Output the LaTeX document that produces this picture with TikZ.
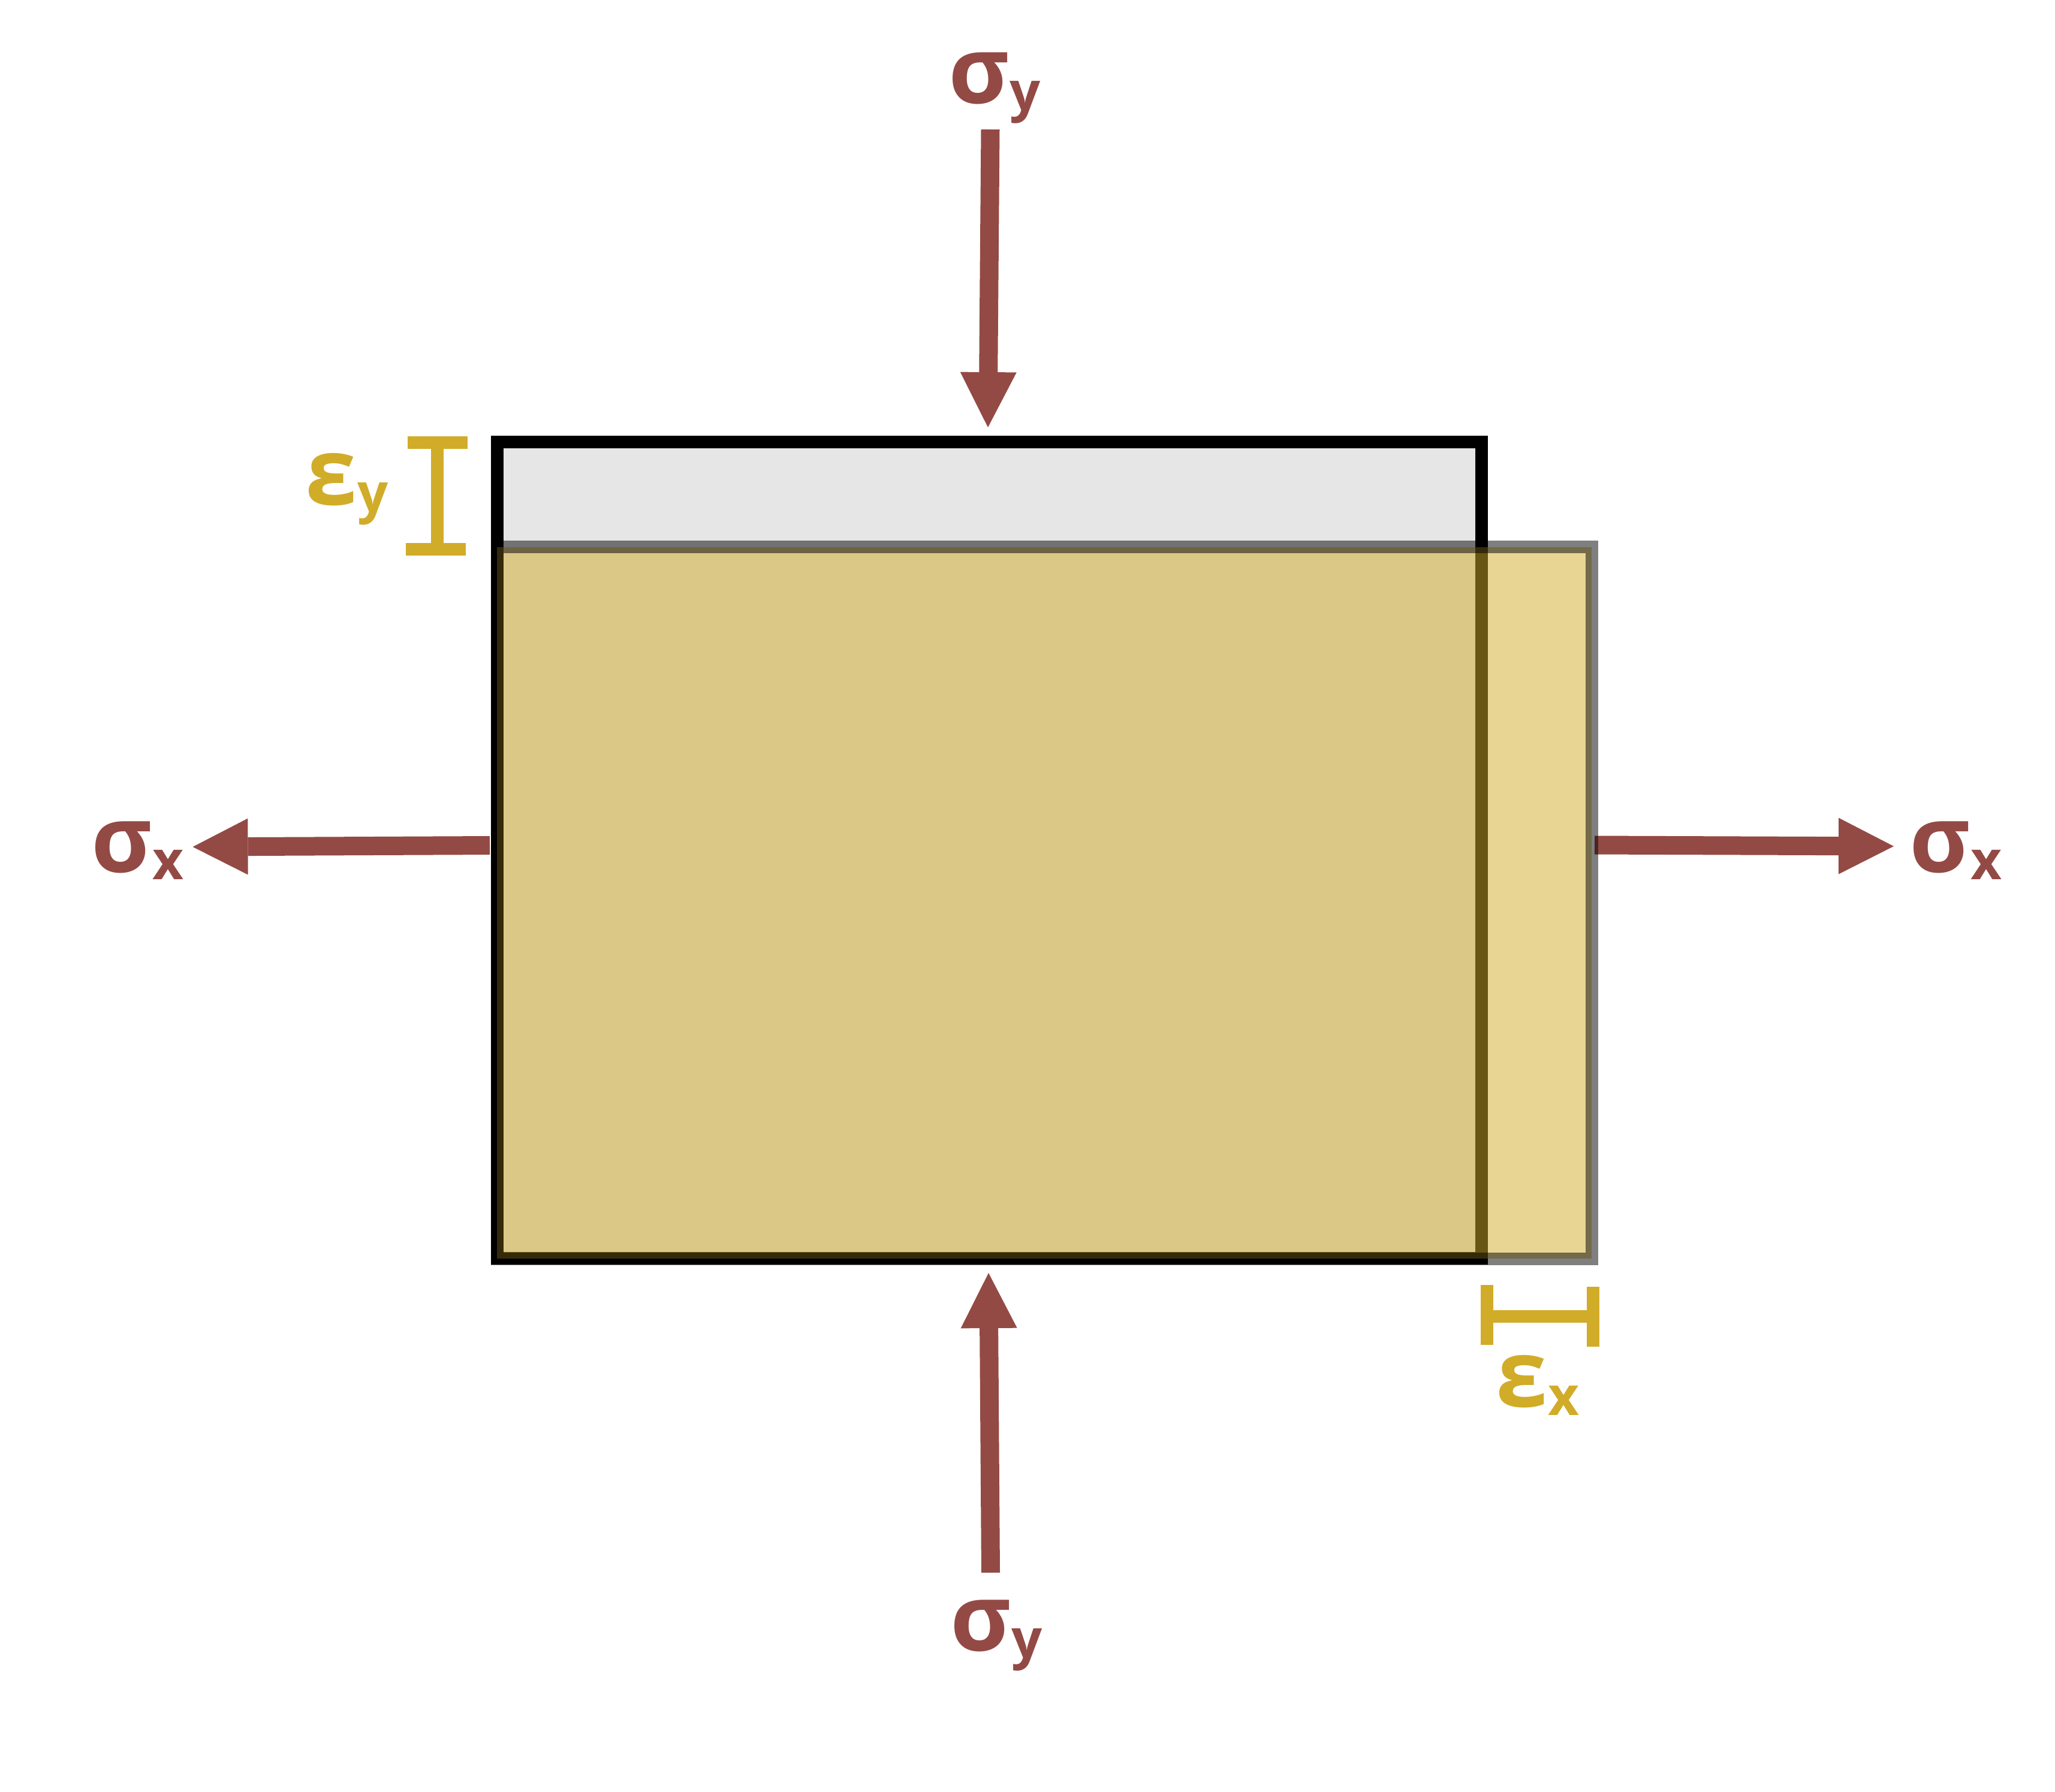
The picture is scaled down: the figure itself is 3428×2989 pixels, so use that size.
\documentclass[tikz,border=0pt]{standalone}
\usepackage{fontspec}
\setmainfont{Open Sans}
\usetikzlibrary{arrows.meta}
\definecolor{stressred}{HTML}{934A45}
\definecolor{straingold}{HTML}{D1AC29}
\definecolor{origgray}{HTML}{E6E6E6}
\newcommand{\symlab}[3]{{\bfseries\fontsize{38.75}{40}\selectfont #1}\kern0.3pt\raisebox{#3}{\bfseries\fontsize{22.5}{24}\selectfont #2}}
\tikzset{
  stressarrow/.style={draw=stressred, line width=7.75pt, line cap=butt,
    -{Triangle[width=23.5pt,length=23pt,line width=0pt]}},
  origbox/.style={draw=black, fill=origgray, line width=5.25pt},
  defbox/.style={draw=black, draw opacity=0.5, fill=straingold, fill opacity=0.5, line width=5.25pt},
  goldbar/.style={draw=straingold, line width=5.25pt, line cap=butt},
  stresslabel/.style={anchor=base west, inner sep=0pt, outer sep=0pt, text=stressred},
  strainlabel/.style={anchor=base west, inner sep=0pt, outer sep=0pt, text=straingold}
}
\begin{document}
\begin{tikzpicture}[x=0.25pt,y=-0.25pt]
\useasboundingbox (0,0) rectangle (3428,2989);
% stress arrows (drawn beneath the boxes)
\coordinate (topS) at (1652,216);
\coordinate (topT) at (1648,713);
\coordinate (botS) at (1652.5,2624);
\coordinate (botT) at (1649,2124);
\coordinate (leftS) at (817,1410.5);
\coordinate (leftT) at (321.5,1413);
\coordinate (rightS) at (2660,1410);
\coordinate (rightT) at (3159,1412);
\draw[stressarrow] (topS) -- (topT);
\draw[stressarrow] (botS) -- (botT);
\draw[stressarrow] (leftS) -- (leftT);
\draw[stressarrow] (rightS) -- (rightT);
% original and deformed element
\path[origbox] (829,737.5) rectangle (2471.5,2099);
\path[defbox] (829,912.5) rectangle (2655,2100);
% strain bars
\draw[goldbar] (680,738.5) -- (780,738.5);
\draw[goldbar] (729,738.5) -- (729,916.5);
\draw[goldbar] (677,916.5) -- (777,916.5);
\draw[goldbar] (2480,2144) -- (2480,2244);
\draw[goldbar] (2657.5,2147) -- (2657.5,2247);
\draw[goldbar] (2480,2196.5) -- (2657.5,2196.5);
% labels
\node[stresslabel] (sigyT) at (1582,172) {\symlab{σ}{y}{-3pt}};
\node[stresslabel] (sigyB) at (1585,2754) {\symlab{σ}{y}{-3pt}};
\node[stresslabel] (sigxL) at (152,1455) {\symlab{σ}{x}{-3pt}};
\node[stresslabel] (sigxR) at (3185,1455) {\symlab{σ}{x}{-3pt}};
\node[strainlabel] (epsy) at (509,842) {\symlab{ε}{y}{-3pt}};
\node[strainlabel] (epsx) at (2495,2347) {\symlab{ε}{x}{-3.7pt}};
\end{tikzpicture}
\end{document}
